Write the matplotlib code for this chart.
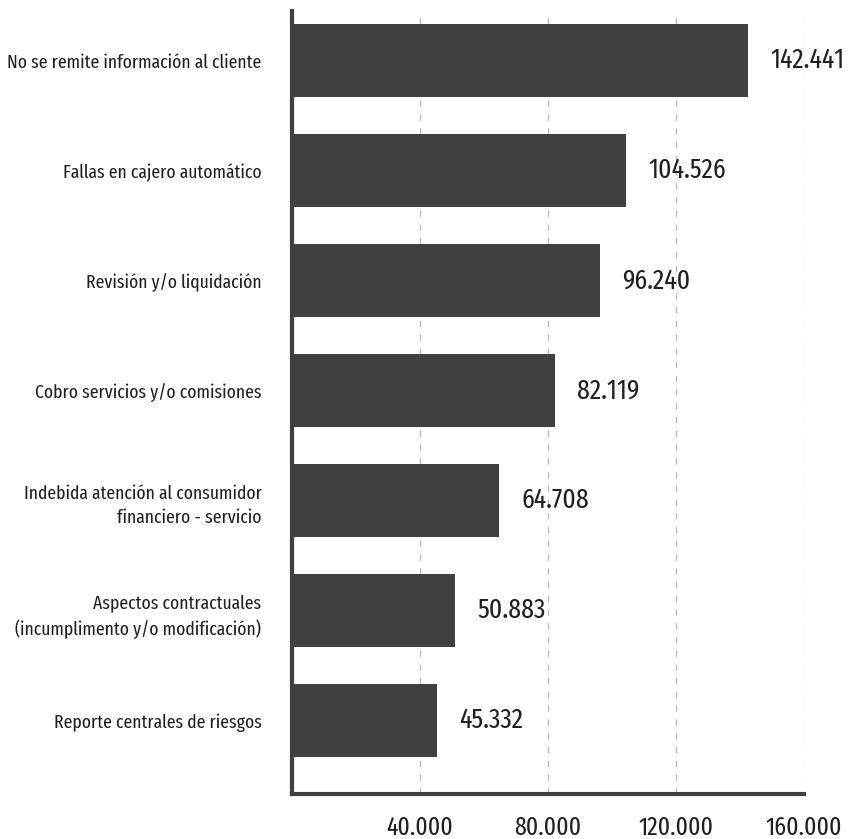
import matplotlib
matplotlib.use("Agg")
import matplotlib.pyplot as plt
from matplotlib.ticker import FuncFormatter

plt.rcParams['font.family'] = ['Fira Sans Extra Condensed', 'DejaVu Sans']

categories = [
    "No se remite información al cliente",
    "Fallas en cajero automático",
    "Revisión y/o liquidación",
    "Cobro servicios y/o comisiones",
    "Indebida atención al consumidor\nfinanciero - servicio",
    "Aspectos contractuales\n(incumplimento y/o modificación)",
    "Reporte centrales de riesgos",
]
values = [142441, 104526, 96240, 82119, 64708, 50883, 45332]
value_labels = ["142.441", "104.526", "96.240", "82.119", "64.708", "50.883", "45.332"]
x_ticks = [40000, 80000, 120000, 160000]

bar_color = '#404040'
text_color = '#231f20'

fig = plt.figure(figsize=(8.54, 8.39), dpi=100)
ax = fig.add_axes([292 / 854, 45 / 839, 512 / 854, 783 / 839])

pos = list(range(len(categories)))
ax.barh(pos, values, height=0.66, color=bar_color, zorder=2)

# value labels to the right of each bar
for p, v, lab in zip(pos, values, value_labels):
    ax.annotate(lab, (v, p), xytext=(16, 0), textcoords='offset points',
                ha='left', va='center', fontsize=20, color=text_color)

ax.set_xlim(0, 160000)
ax.set_ylim(6.668, -0.45)

ax.set_yticks(pos)
ax.set_yticklabels(categories, fontsize=13.8, color=text_color, linespacing=1.5)
ax.tick_params(axis='y', length=0, pad=22)

ax.set_xticks(x_ticks)
ax.xaxis.set_major_formatter(FuncFormatter(lambda x, _: f"{int(x):,}".replace(",", ".")))
ax.tick_params(axis='x', length=0, pad=15, labelsize=18.5, labelcolor=text_color)

ax.grid(axis='x', color='#b8b8b8', linestyle=(0, (5, 6)), linewidth=0.9, zorder=0)
ax.set_axisbelow(True)

for s in ['top', 'right']:
    ax.spines[s].set_visible(False)
for s in ['left', 'bottom']:
    ax.spines[s].set_color(bar_color)
    ax.spines[s].set_linewidth(3)

fig.savefig("out.png", dpi=100)
